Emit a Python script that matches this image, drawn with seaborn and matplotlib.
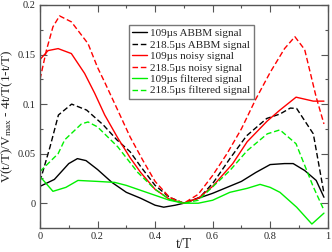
import matplotlib
matplotlib.use("Agg")
import matplotlib.pyplot as plt
import seaborn as sns
import pandas as pd
from matplotlib.ticker import MultipleLocator

# ---- data ----
abbm109_x = [0, 0.05, 0.1, 0.13, 0.16, 0.2, 0.25, 0.3, 0.35, 0.4, 0.43, 0.47, 0.5, 0.55, 0.6, 0.65, 0.7, 0.75, 0.8, 0.85, 0.88, 0.92, 0.96, 0.987]
abbm109_y = [0.017, 0.024, 0.040, 0.045, 0.043, 0.034, 0.021, 0.011, 0.005, -0.002, -0.004, -0.002, 0.0, 0.005, 0.010, 0.016, 0.022, 0.031, 0.039, 0.040, 0.040, 0.033, 0.023, 0.006]

abbm218_x = [0, 0.035, 0.064, 0.11, 0.162, 0.22, 0.267, 0.313, 0.35, 0.4, 0.45, 0.5, 0.556, 0.603, 0.66, 0.718, 0.788, 0.834, 0.87, 0.892, 0.95, 0.987]
abbm218_y = [0.022, 0.057, 0.089, 0.100, 0.094, 0.079, 0.064, 0.052, 0.037, 0.018, 0.006, 0.0, 0.006, 0.021, 0.045, 0.068, 0.0855, 0.090, 0.096, 0.0956, 0.070, 0.010]

noisy109_x = [0, 0.028, 0.063, 0.109, 0.155, 0.19, 0.225, 0.27, 0.313, 0.35, 0.4, 0.45, 0.5, 0.55, 0.6, 0.67, 0.72, 0.79, 0.834, 0.89, 0.95, 0.987]
noisy109_y = [0.145, 0.154, 0.156, 0.151, 0.131, 0.111, 0.089, 0.066, 0.046, 0.031, 0.014, 0.004, 0.0, 0.005, 0.017, 0.040, 0.062, 0.083, 0.094, 0.107, 0.103, 0.103]

noisy218_x = [0, 0.022, 0.045, 0.068, 0.109, 0.167, 0.2, 0.225, 0.27, 0.313, 0.358, 0.4, 0.45, 0.5, 0.55, 0.6, 0.65, 0.7, 0.75, 0.8, 0.85, 0.886, 0.92, 0.96, 0.987]
noisy218_y = [0.125, 0.154, 0.178, 0.189, 0.183, 0.161, 0.137, 0.122, 0.094, 0.067, 0.043, 0.022, 0.006, 0.0, 0.009, 0.028, 0.050, 0.075, 0.105, 0.132, 0.156, 0.168, 0.155, 0.107, 0.080]

filt109_x = [0, 0.045, 0.09, 0.132, 0.2, 0.26, 0.3, 0.35, 0.4, 0.45, 0.5, 0.55, 0.6, 0.66, 0.72, 0.765, 0.8, 0.834, 0.892, 0.945, 0.987]
filt109_y = [0.027, 0.012, 0.016, 0.023, 0.022, 0.021, 0.018, 0.013, 0.008, 0.003, 0.0, 0.0, 0.003, 0.011, 0.015, 0.019, 0.016, 0.011, -0.004, -0.021, -0.010]

filt218_x = [0, 0.063, 0.086, 0.144, 0.167, 0.2, 0.27, 0.34, 0.4, 0.45, 0.5, 0.55, 0.6, 0.66, 0.72, 0.79, 0.834, 0.89, 0.95, 0.987]
filt218_y = [0.032, 0.050, 0.064, 0.080, 0.082, 0.077, 0.057, 0.031, 0.014, 0.004, 0.0, 0.003, 0.0165, 0.033, 0.053, 0.070, 0.074, 0.060, 0.0165, -0.007]

labels = ["109\u00b5s ABBM signal", "218.5\u00b5s ABBM signal",
          "109\u00b5s noisy signal", "218.5\u00b5s noisy signal",
          "109\u00b5s filtered signal", "218.5\u00b5s filtered signal"]
xs = [abbm109_x, abbm218_x, noisy109_x, noisy218_x, filt109_x, filt218_x]
ys = [abbm109_y, abbm218_y, noisy109_y, noisy218_y, filt109_y, filt218_y]
colors = ["black", "black", "#ff0000", "#ff0000", "#00f000", "#00f000"]
styles = ["-", "--", "-", "--", "-", "--"]

xticks = [0, 0.2, 0.4, 0.6, 0.8, 1]
xticklabels = ["0", "0.2", "0.4", "0.6", "0.8", "1"]
yticks = [0, 0.05, 0.1, 0.15, 0.2]
yticklabels = ["0", "0.05", "0.1", "0.15", "0.2"]

# ---- plot ----
sns.set_style("ticks")
plt.rcParams["font.family"] = ["Liberation Serif", "DejaVu Serif"]
plt.rcParams["mathtext.fontset"] = "custom"
plt.rcParams["mathtext.rm"] = "Liberation Serif"
plt.rcParams["mathtext.it"] = "Liberation Serif"

fig = plt.figure(figsize=(3.32, 2.52), dpi=100)
ax = fig.add_axes([40 / 332, 1 - 228 / 252, 287.7 / 332, 223 / 252])

for x, y, c, s, lab in zip(xs, ys, colors, styles, labels):
    df = pd.DataFrame({"x": x, "y": y})
    sns.lineplot(data=df, x="x", y="y", ax=ax, color=c, linewidth=1.0,
                 label=lab, estimator=None, sort=False)
    ax.lines[-1].set_linestyle(s)
    if s == "--":
        ax.lines[-1].set_dashes((4, 2))

ax.set_xlim(0, 1)
ax.set_ylim(-0.025, 0.2)
ax.set_xticks(xticks)
ax.set_xticklabels(xticklabels)
ax.set_yticks(yticks)
ax.set_yticklabels(yticklabels)
ax.xaxis.set_minor_locator(MultipleLocator(0.1))
ax.yaxis.set_minor_locator(MultipleLocator(0.025))
ax.tick_params(which="both", direction="in", top=True, right=True, labelsize=7.5, width=0.8, color="#555555")
ax.tick_params(which="major", length=5, pad=3)
ax.tick_params(which="minor", length=2.5)
for sp in ax.spines.values():
    sp.set_linewidth(1.0)
    sp.set_color("#555555")

ax.set_xlabel("t/T", fontsize=10, labelpad=-2)
ax.set_ylabel("V(t/T)/V$_{max}$ - 4t/T(1-t/T)", fontsize=9.5, labelpad=2)

leg = ax.legend(loc="upper left", bbox_to_anchor=(0.309, 0.910), borderaxespad=0,
                fontsize=8, frameon=True, fancybox=False, edgecolor="#555555",
                handlelength=1.3, handletextpad=0.3, labelspacing=0.15,
                borderpad=0.3)
leg.get_frame().set_linewidth(1.0)

fig.savefig("out.png", dpi=100)
